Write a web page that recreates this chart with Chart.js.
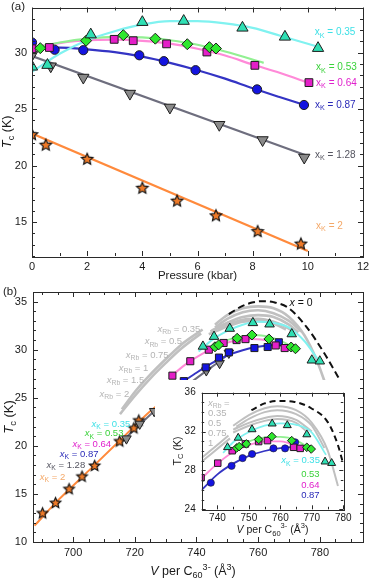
<!DOCTYPE html>
<html><head><meta charset="utf-8">
<script src="https://cdn.jsdelivr.net/npm/chart.js@4.4.1/dist/chart.umd.min.js"></script>
<style>
html,body{margin:0;padding:0;background:#fff;}
#wrap{position:relative;width:371px;height:580px;overflow:hidden;background:#fff;}
canvas{position:absolute;}
#ca{left:0;top:0;width:371px;height:290px;}
#cb{left:0;top:285px;width:371px;height:295px;}
#cc{left:155px;top:380px;width:200px;height:157px;background:#fff;}
</style></head><body>
<div id="wrap">
<canvas id="ca" width="371" height="290"></canvas>
<canvas id="cb" width="371" height="295"></canvas>
<canvas id="cc" width="200" height="157"></canvas>
</div>
<script>
// ---------- Panel (a): Tc vs pressure ----------
const aP035 = [0, 0.56, 2.13, 4.0, 5.5, 7.63, 9.17, 10.37];
const aT035 = [28.75, 28.9, 31.6, 32.7, 32.8, 32.2, 31.4, 30.4];
const aP053 = [0.3, 1.96, 3.31, 4.47, 5.63, 6.43, 6.67];
const aT053 = [30.4, 31.06, 31.55, 31.24, 30.75, 30.49, 30.37];
const aP064 = [0, 0.63, 2.98, 3.67, 4.88, 6.34, 8.08, 10.04];
const aT064 = [30.35, 30.46, 31.18, 31.06, 30.78, 30.06, 28.88, 27.35];
const aP087 = [0, 0.82, 1.86, 3.89, 4.78, 5.93, 8.16, 9.86];
const aT087 = [30.9, 30.26, 30.22, 29.77, 29.25, 28.45, 26.75, 25.37];
const aP128 = [0, 0.68, 1.86, 3.55, 5.0, 6.79, 8.36, 9.87];
const aT128 = [29.8, 28.8, 27.8, 26.38, 25.15, 23.62, 22.27, 20.72];
const aP2 = [0, 0.5, 2.0, 4.0, 5.26, 6.67, 8.18, 9.75];
const aT2 = [22.78, 21.85, 20.6, 18.04, 16.9, 15.6, 14.2, 13.1];
// fitted curves (a)
const afP035 = [0, 1, 2, 3, 4, 5, 6, 7, 8, 9, 10.4];
const afT035 = [28.3, 29.9, 31.1, 31.9, 32.5, 32.8, 32.8, 32.6, 32.2, 31.5, 30.5];
const afP053 = [0, 1, 2, 3, 4, 5, 6, 7, 8.4];
const afT053 = [30.4, 30.9, 31.25, 31.4, 31.35, 31.1, 30.7, 30.1, 29.1];
const afP064 = [0, 1, 2, 3, 4, 5, 6, 7, 8, 9, 10.05];
const afT064 = [30.45, 30.85, 31.1, 31.15, 31.05, 30.8, 30.35, 29.75, 28.95, 28.2, 27.3];
const afP087 = [0, 1, 2, 3, 4, 5, 6, 7, 8, 9, 9.9];
const afT087 = [30.45, 30.45, 30.3, 30.05, 29.65, 29.1, 28.45, 27.7, 26.85, 26.05, 25.35];
const afP128 = [0, 10];
const afT128 = [29.7, 20.85];
const afP2 = [0, 10];
const afT2 = [22.85, 12.45];
const aXTicks = [0, 2, 4, 6, 8, 10, 12];
const aYTicks = [15, 20, 25, 30];

// ---------- Panel (b): Tc vs volume ----------
const bV035 = [742.1, 745.7, 750.8, 758.3, 763.7, 770.9, 777.4, 780.0];
const bT035 = [30.34, 31.36, 32.2, 32.79, 32.65, 31.63, 28.9, 28.8];
const bV053 = [746.0, 747.2, 753.2, 758.0, 763.5, 770.7, 772.1];
const bT053 = [30.3, 30.5, 31.19, 31.53, 31.12, 30.28, 30.1];
const bV064 = [732.2, 738.0, 744.0, 748.8, 753.0, 755.9, 765.7, 768.6];
const bT064 = [27.3, 28.8, 30.0, 30.7, 31.0, 31.1, 30.44, 30.17];
const bV087 = [730.8, 735.9, 743.0, 747.3, 750.5, 758.8, 763.1, 766.7];
const bT087 = [25.28, 26.73, 28.16, 29.18, 29.72, 30.17, 30.28, 30.77];
const bV128 = [717.3, 721.6, 726.3, 732.2, 737.2, 743.2, 747.5, 750.5];
const bT128 = [20.75, 22.28, 23.6, 25.17, 26.36, 27.83, 28.6, 29.66];
const bV2 = [690.1, 694.3, 698.7, 702.9, 707.0, 715.1, 719.7, 721.3];
const bT2 = [13.03, 14.1, 15.54, 16.84, 17.96, 20.51, 21.87, 22.68];
// fitted curves (b)
const bfV035 = [740.7, 745, 750, 755, 760, 765, 770, 775, 780];
const bfT035 = [29.8, 31.0, 31.95, 32.6, 32.9, 32.8, 32.3, 30.9, 28.7];
const bfV053 = [745, 750, 755, 760, 765, 770, 773];
const bfT053 = [30.3, 31.0, 31.4, 31.5, 31.2, 30.5, 29.8];
const bfV064 = [732, 737, 742, 747, 752, 757, 762, 766, 769.5];
const bfT064 = [27.3, 28.6, 29.6, 30.4, 30.9, 31.1, 31.0, 30.6, 30.1];
const bfV087 = [730.5, 735, 740, 745, 750, 755, 760, 765, 768];
const bfT087 = [25.2, 26.5, 27.6, 28.6, 29.4, 29.95, 30.3, 30.5, 30.55];
const bfV128 = [716, 721.6, 726.3, 732.2, 737.2, 743.2, 747.5, 751];
const bfT128 = [20.5, 22.2, 23.6, 25.1, 26.35, 27.8, 28.8, 29.75];
const bfV2 = [687.5, 695, 705, 715, 725, 731];
const bfT2 = [11.7, 14.3, 17.4, 20.5, 23.6, 25.1];
// x = 0 (dashed) and x_Rb reference curves
const bV0 = [750.5, 754, 758, 761.5, 765, 770, 775.6, 781.5, 788];
const bT0 = [33.7, 34.4, 34.9, 35.05, 34.95, 34.3, 32.4, 29.6, 26.0];
const bRbLowV1 = [715.2, 720, 725, 730, 735, 741.5];
const bRbLowT1 = [23.3, 25.2, 27.0, 28.6, 30.1, 31.7];
const bRbLowV2 = [715.8, 720, 725, 730, 735, 742];
const bRbLowT2 = [23.8, 25.6, 27.4, 29.0, 30.5, 32.1];
const bRbV1 = [746, 750, 755, 760, 765, 770, 775, 779, 782];
const bRbT1 = [32.6, 33.6, 34.3, 34.5, 34.3, 33.4, 31.5, 28.9, 26.3];
const bRbV2 = [746, 750, 755, 760, 765, 770, 774];
const bRbT2 = [32.3, 33.2, 33.9, 34.1, 33.8, 33.0, 31.9];
const bRbV3 = [745, 750, 755, 760, 765, 770, 773];
const bRbT3 = [32.0, 32.8, 33.4, 33.6, 33.4, 32.6, 31.8];
const bRbV4 = [744.5, 750, 755, 760, 765, 770, 772];
const bRbT4 = [31.9, 32.6, 33.1, 33.2, 32.9, 32.2, 31.7];
const bRbV5 = [744, 750, 755, 760, 765, 769];
const bRbT5 = [31.6, 32.4, 32.9, 33.0, 32.7, 32.1];
const bXTicks = [700, 720, 740, 760, 780];
const bYTicks = [10, 15, 20, 25, 30, 35];

// ---------- Inset ----------
const iV035 = [743.2, 746.6, 751.0, 757.4, 762.2, 768.4, 774.2, 776.3];
const iT035 = [30.38, 31.35, 32.22, 32.81, 32.64, 31.7, 28.9, 28.75];
const iV053 = [746.1, 746.9, 749.2, 753.1, 757.3, 763.6, 768.4, 769.8];
const iT053 = [30.31, 30.45, 30.73, 31.18, 31.49, 31.07, 30.38, 30.2];
const iV064 = [734.8, 740.1, 744.7, 748.9, 753.1, 755.9, 764.2, 766.3];
const iT064 = [27.25, 28.75, 30.03, 30.73, 30.97, 31.07, 30.38, 30.27];
const iV087 = [737.9, 744.5, 748.0, 751.0, 757.8, 761.5, 764.7];
const iT087 = [26.73, 28.47, 29.27, 29.69, 30.27, 30.27, 30.9];
const ifV035 = [741.8, 745, 750, 755, 760, 765, 770, 774.5];
const ifT035 = [29.8, 30.9, 31.95, 32.6, 32.85, 32.7, 31.9, 29.6];
const ifV053 = [744, 750, 755, 760, 765, 770];
const ifT053 = [30.2, 31.0, 31.4, 31.45, 31.1, 30.1];
const ifV064 = [735, 740, 745, 750, 755, 760, 765, 767];
const ifT064 = [27.2, 28.7, 29.9, 30.6, 31.0, 31.0, 30.5, 30.1];
const ifV087 = [735, 740, 745, 750, 755, 760, 765];
const ifT087 = [26.0, 27.6, 28.7, 29.5, 30.0, 30.3, 30.45];
const iV0 = [750.8, 755, 759.2, 764.5, 769.8, 775, 778.2, 780];
const iT0 = [34.2, 34.9, 35.15, 35.05, 34.4, 33.0, 30.7, 28.65];
const iRbLowV1 = [735, 738, 741, 744];
const iRbLowT1 = [28.9, 29.7, 30.5, 31.3];
const iRbLowV2 = [735, 738, 741, 743.5];
const iRbLowT2 = [29.3, 30.1, 30.9, 31.6];
const iRbV1 = [745, 750, 755, 759, 765, 770, 775, 778.3];
const iRbT1 = [32.6, 33.7, 34.4, 34.6, 34.2, 32.9, 30.1, 26.4];
const iRbV2 = [746, 750, 755, 759, 765, 770, 774];
const iRbT2 = [32.5, 33.3, 34.0, 34.2, 33.8, 32.6, 30.3];
const iRbV3 = [745, 750, 755, 759, 765, 770];
const iRbT3 = [32.2, 32.9, 33.4, 33.6, 33.2, 32.0];
const iRbV4 = [745, 750, 755, 759, 765, 769];
const iRbT4 = [31.9, 32.6, 33.1, 33.3, 32.9, 31.8];
const iXTicks = [740, 750, 760, 770, 780];
const iYTicks = [24, 28, 32, 36];

// ---------- helpers ----------
const FAM = '"Liberation Sans", Arial, Helvetica, sans-serif';
Chart.defaults.font.family = FAM;
const C = {
  cyanL: '#80f2f0', cyanM: '#2fe0b4', cyanT: '#3ee0e6',
  greenL: '#92f092', greenM: '#2ee82e', greenT: '#3ad23a',
  pinkL: '#ff8ad8', pinkM: '#e41fc8', pinkT: '#e020cc',
  blueL: '#3434c4', blueM: '#1414e0', blueT: '#2a2ab8',
  grayL: '#6e6e7e', grayM: '#8a8a8a', grayT: '#555560',
  orL: '#ff8a3c', orM: '#ee7a28', orT: '#f4a868',
  rb: '#c0c0c0', rbT: '#b4b4b4'
};
const pts = (xs, ys) => xs.map((x, i) => ({x: x, y: ys[i]}));
function lineDs(xs, ys, color, width, dash) {
  return {data: pts(xs, ys), borderColor: color, borderWidth: width, borderDash: dash || [],
    pointRadius: 0, fill: false, cubicInterpolationMode: 'monotone', tension: 0.4, order: 10};
}
function markDs(xs, ys, style, fill, r, rot, bw) {
  return {data: pts(xs, ys), showLine: false, pointStyle: style, pointRadius: r,
    pointBackgroundColor: fill, pointBorderColor: '#1e1e1e', pointBorderWidth: bw || 1,
    pointRotation: rot || 0, order: 0};
}
function starImg(r, fill) {
  const c = document.createElement('canvas');
  const s = Math.ceil(2 * r + 4); c.width = c.height = s;
  const g = c.getContext('2d'); const cx = s / 2, cy = s / 2 + 0.5;
  g.beginPath();
  for (let i = 0; i < 10; i++) {
    const a = -Math.PI / 2 + i * Math.PI / 5; const rr = i % 2 ? r * 0.47 : r;
    g.lineTo(cx + rr * Math.cos(a), cy + rr * Math.sin(a));
  }
  g.closePath(); g.fillStyle = fill; g.fill();
  g.strokeStyle = '#111'; g.lineWidth = 1.2; g.stroke();
  return c;
}
function rich(ctx, x, y, parts, size, color, align, rot) {
  const seg = parts.map(p => {
    const t = p[0], s = p[1] || '';
    const small = s.includes('s') || s.includes('p');
    const fs = small ? size * 0.72 : size;
    const font = (s.includes('i') ? 'italic ' : '') + fs + 'px ' + FAM;
    ctx.font = font;
    return {t: t, font: font, w: ctx.measureText(t).width,
      dy: s.includes('s') ? size * 0.32 : (s.includes('p') ? -size * 0.38 : 0)};
  });
  const total = seg.reduce((a, b) => a + b.w, 0);
  ctx.save();
  ctx.translate(x, y);
  if (rot) ctx.rotate(rot);
  let cx = align === 'center' ? -total / 2 : (align === 'right' ? -total : 0);
  ctx.fillStyle = color; ctx.textBaseline = 'middle'; ctx.textAlign = 'left';
  for (const s of seg) { ctx.font = s.font; ctx.fillText(s.t, cx, s.dy); cx += s.w; }
  ctx.restore();
}
function range(a, b, st) { const r = []; for (let v = a; v <= b + 1e-9; v += st) r.push(+v.toFixed(4)); return r; }

// frame + inward ticks on all four sides, through the scales
const frameTicks = {
  id: 'frameTicks',
  afterDatasetsDraw(chart, args, o) {
    const {ctx, chartArea: a, scales: {x, y}} = chart;
    ctx.save();
    ctx.strokeStyle = '#2a2a2a'; ctx.lineWidth = 1;
    ctx.beginPath();
    const tick = (vals, len, horiz) => {
      for (const v of vals) {
        if (horiz) {
          const px = Math.round(x.getPixelForValue(v)) + 0.5;
          ctx.moveTo(px, a.bottom); ctx.lineTo(px, a.bottom - len);
          ctx.moveTo(px, a.top); ctx.lineTo(px, a.top + len);
        } else {
          const py = Math.round(y.getPixelForValue(v)) + 0.5;
          ctx.moveTo(a.left, py); ctx.lineTo(a.left + len, py);
          ctx.moveTo(a.right, py); ctx.lineTo(a.right - len, py);
        }
      }
    };
    tick(o.xMajor, o.len, true); tick(o.xMinor, o.minLen, true);
    tick(o.yMajor, o.len, false); tick(o.yMinor, o.minLen, false);
    ctx.stroke();
    ctx.strokeRect(Math.round(a.left) + 0.5, Math.round(a.top) + 0.5,
      Math.round(a.right - a.left), Math.round(a.bottom - a.top));
    ctx.restore();
  }
};
// text annotations anchored at data values
const texts = {
  id: 'texts',
  afterDraw(chart, args, o) {
    const {ctx, chartArea: a, scales: {x, y}} = chart;
    for (const t of (o.items || [])) {
      rich(ctx, x.getPixelForValue(t.x), y.getPixelForValue(t.y), t.parts, t.size, t.color, t.align || 'left');
    }
    if (o.xTitle) rich(ctx, (a.left + a.right) / 2 + (o.xTitle.dx || 0), a.bottom + o.xTitle.dy, o.xTitle.parts, o.xTitle.size, '#1a1a1a', 'center');
    if (o.yTitle) rich(ctx, a.left - o.yTitle.dx, (a.top + a.bottom) / 2, o.yTitle.parts, o.yTitle.size, '#1a1a1a', 'center', -Math.PI / 2);
    if (o.tag) rich(ctx, o.tag.x, o.tag.y, o.tag.parts, o.tag.size, '#1a1a1a', 'left');
  }
};
Chart.register(frameTicks, texts);

function axis(min, max, ticks, fit, isX, pad, fsize) {
  return {
    type: 'linear', min: min, max: max,
    grid: {display: false, drawTicks: false}, border: {display: false},
    ticks: {padding: pad, color: '#1a1a1a', font: {size: fsize}},
    afterBuildTicks: s => { s.ticks = ticks.map(v => ({value: v})); },
    afterFit: s => {
      if (isX) s.height = fit; else s.width = fit;
      s.paddingLeft = 0; s.paddingRight = 0; s.paddingTop = 0; s.paddingBottom = 0;
    }
  };
}
function baseOpts(pad, xs, ys, ft, tx) {
  return {
    responsive: false, animation: false, events: [],
    layout: {padding: pad},
    plugins: {legend: {display: false}, tooltip: {enabled: false}, frameTicks: ft, texts: tx},
    scales: {x: xs, y: ys}
  };
}
const xK = (v) => [['x', ''], ['K', 's'], [' = ' + v, '']];
const xKi = (v) => [['x', 'i'], ['K', 's'], [' = ' + v, '']];
const xRb = (v) => [['x', 'i'], ['Rb', 's'], [' = ' + v, '']];
const TcTitle = [['T', 'i'], ['c', 's'], [' (K)', '']];
const Vtitle = [['V', 'i'], [' per C', ''], ['60', 's'], ['3-', 'p'], [' (Å', ''], ['3', 'p'], [')', '']];

// ---------- Chart (a) ----------
const starA = starImg(6, C.orM);
new Chart(document.getElementById('ca'), {
  type: 'line',
  data: {datasets: [
    markDs(aP035, aT035, 'triangle', C.cyanM, 6.5),
    markDs(aP053, aT053, 'rectRot', C.greenM, 5.5),
    markDs(aP064, aT064, 'rect', C.pinkM, 5.5),
    markDs(aP087, aT087, 'circle', C.blueM, 4.6),
    markDs(aP128, aT128, 'triangle', C.grayM, 6.5, 180),
    markDs(aP2, aT2, starA, C.orM, 6),
    lineDs(afP035, afT035, C.cyanL, 2.2),
    lineDs(afP053, afT053, C.greenL, 2.2),
    lineDs(afP064, afT064, C.pinkL, 2.2),
    lineDs(afP087, afT087, C.blueL, 2.2),
    lineDs(afP128, afT128, C.grayL, 2.2),
    lineDs(afP2, afT2, C.orL, 2.2)
  ]},
  options: baseOpts({left: 0, top: 1.5, right: 8, bottom: 0},
    axis(0, 12, aXTicks, 34, true, 4, 11),
    axis(12, 34, aYTicks, 32, false, 5, 11),
    {xMajor: aXTicks, xMinor: range(1, 11, 2), yMajor: aYTicks, yMinor: range(12, 34, 1).filter(v => v % 5), len: 5, minLen: 3},
    {items: [
      {x: 10.25, y: 31.8, parts: xK('0.35'), size: 10, color: C.cyanT},
      {x: 10.3, y: 28.7, parts: xK('0.53'), size: 10, color: C.greenT},
      {x: 10.3, y: 27.33, parts: xK('0.64'), size: 10, color: C.pinkT},
      {x: 10.26, y: 25.35, parts: xK('0.87'), size: 10, color: C.blueT},
      {x: 10.26, y: 20.92, parts: xK('1.28'), size: 10, color: C.grayT},
      {x: 10.3, y: 14.66, parts: xK('2'), size: 10, color: C.orT}
    ],
    xTitle: {parts: [['Pressure (kbar)', '']], size: 11.5, dy: 20},
    yTitle: {parts: TcTitle, size: 12.5, dx: 24},
    tag: {x: 11, y: 7, parts: [['(a)', '']], size: 11.5}}
  )
});

// ---------- Chart (b) ----------
const starB = starImg(5.5, C.orM);
const rbW = 2.6;
new Chart(document.getElementById('cb'), {
  type: 'line',
  data: {datasets: [
    markDs(bV035, bT035, 'triangle', C.cyanM, 5.5),
    markDs(bV053, bT053, 'rectRot', C.greenM, 5),
    markDs(bV064, bT064, 'rect', C.pinkM, 5),
    markDs(bV087, bT087, 'rect', C.blueM, 5),
    markDs(bV128, bT128, 'triangle', C.grayM, 5.5, 180),
    markDs(bV2, bT2, starB, C.orM, 6),
    lineDs(bfV035, bfT035, C.cyanL, 2),
    lineDs(bfV053, bfT053, C.greenL, 2),
    lineDs(bfV064, bfT064, C.pinkL, 2),
    lineDs(bfV087, bfT087, C.blueL, 2),
    lineDs(bfV128, bfT128, C.grayL, 2),
    lineDs(bfV2, bfT2, C.orL, 2),
    lineDs(bV0, bT0, '#111', 2, [7, 4]),
    lineDs(bRbLowV1, bRbLowT1, C.rb, rbW),
    lineDs(bRbLowV2, bRbLowT2, C.rb, rbW),
    lineDs(bRbV1, bRbT1, C.rb, rbW),
    lineDs(bRbV2, bRbT2, C.rb, rbW),
    lineDs(bRbV3, bRbT3, C.rb, rbW),
    lineDs(bRbV4, bRbT4, C.rb, rbW),
    lineDs(bRbV5, bRbT5, C.rb, rbW)
  ]},
  options: baseOpts({left: 0, top: 5, right: 8, bottom: 0},
    axis(687, 794, bXTicks, 38, true, 4, 11),
    axis(10, 36, bYTicks, 33, false, 6, 11),
    {xMajor: bXTicks, xMinor: range(690, 790, 5).filter(v => v % 20), yMajor: bYTicks, yMinor: range(11, 36, 1).filter(v => v % 5), len: 5, minLen: 3},
    {items: [
      {x: 706.0, y: 22.28, parts: xKi('0.35'), size: 9.5, color: C.cyanT},
      {x: 703.8, y: 21.26, parts: xKi('0.53'), size: 9.5, color: C.greenT},
      {x: 699.8, y: 20.17, parts: xKi('0.64'), size: 9.5, color: C.pinkT},
      {x: 695.7, y: 19.11, parts: xKi('0.87'), size: 9.5, color: C.blueT},
      {x: 691.4, y: 17.96, parts: xKi('1.28'), size: 9.5, color: C.grayT},
      {x: 689.2, y: 16.73, parts: xKi('2'), size: 9.5, color: C.orT},
      {x: 727.4, y: 32.14, parts: xRb('0.35'), size: 9.5, color: C.rbT},
      {x: 723.2, y: 30.82, parts: xRb('0.5'), size: 9.5, color: C.rbT},
      {x: 717.1, y: 29.39, parts: xRb('0.75'), size: 9.5, color: C.rbT},
      {x: 714.8, y: 28.06, parts: xRb('1'), size: 9.5, color: C.rbT},
      {x: 710.9, y: 26.84, parts: xRb('1.5'), size: 9.5, color: C.rbT},
      {x: 708.6, y: 25.4, parts: xRb('2'), size: 9.5, color: C.rbT},
      {x: 770.2, y: 34.8, parts: [['x', 'i'], [' = 0', '']], size: 10.5, color: '#111'}
    ],
    xTitle: {parts: Vtitle, size: 12.5, dx: -5, dy: 30},
    yTitle: {parts: TcTitle, size: 13, dx: 24},
    tag: {x: 3, y: 7, parts: [['(b)', '']], size: 11.5}}
  )
});

// ---------- Inset ----------
new Chart(document.getElementById('cc'), {
  type: 'line',
  data: {datasets: [
    markDs(iV035, iT035, 'triangle', C.cyanM, 4.6),
    markDs(iV053, iT053, 'rectRot', C.greenM, 4.3),
    markDs(iV064, iT064, 'rect', C.pinkM, 4.6),
    markDs(iV087, iT087, 'circle', C.blueM, 3.6, 0, 0.6),
    lineDs(ifV035, ifT035, C.cyanL, 1.8),
    lineDs(ifV053, ifT053, C.greenL, 1.8),
    lineDs(ifV064, ifT064, C.pinkL, 1.8),
    lineDs(ifV087, ifT087, C.blueL, 1.8),
    lineDs(iV0, iT0, '#111', 2, [6, 4]),
    lineDs(iRbLowV1, iRbLowT1, C.rb, 2),
    lineDs(iRbLowV2, iRbLowT2, C.rb, 2),
    lineDs(iRbV1, iRbT1, C.rb, 2),
    lineDs(iRbV2, iRbT2, C.rb, 2),
    lineDs(iRbV3, iRbT3, C.rb, 2),
    lineDs(iRbV4, iRbT4, C.rb, 2)
  ]},
  options: baseOpts({left: 0, top: 12.7, right: 11.7, bottom: 0},
    axis(735, 780, iXTicks, 27.7, true, 3, 10),
    axis(24, 36, iYTicks, 46.7, false, 6, 10),
    {xMajor: iXTicks, xMinor: range(735, 775, 10), yMajor: iYTicks, yMinor: range(25, 35, 1).filter(v => v % 4), len: 4, minLen: 2.5},
    {items: [
      {x: 737.0, y: 34.93, parts: [['x', 'i'], ['Rb', 's'], [' =', '']], size: 9.5, color: C.rbT},
      {x: 737.0, y: 33.89, parts: [['0.35', '']], size: 9.5, color: C.rbT},
      {x: 737.0, y: 32.84, parts: [['0.5', '']], size: 9.5, color: C.rbT},
      {x: 737.0, y: 31.8, parts: [['0.75', '']], size: 9.5, color: C.rbT},
      {x: 737.0, y: 30.76, parts: [['1', '']], size: 9.5, color: C.rbT},
      {x: 760.3, y: 28.99, parts: xKi('0.35'), size: 9.5, color: C.cyanT},
      {x: 766.6, y: 27.64, parts: [['0.53', '']], size: 9.5, color: C.greenT},
      {x: 766.6, y: 26.49, parts: [['0.64', '']], size: 9.5, color: C.pinkT},
      {x: 766.6, y: 25.42, parts: [['0.87', '']], size: 9.5, color: C.blueT}
    ],
    xTitle: {parts: Vtitle, size: 10.5, dx: 0, dy: 21},
    yTitle: {parts: [['T', ''], ['C', 's'], [' (K)', '']], size: 10.5, dx: 24}}
  )
});
</script>
</body></html>
